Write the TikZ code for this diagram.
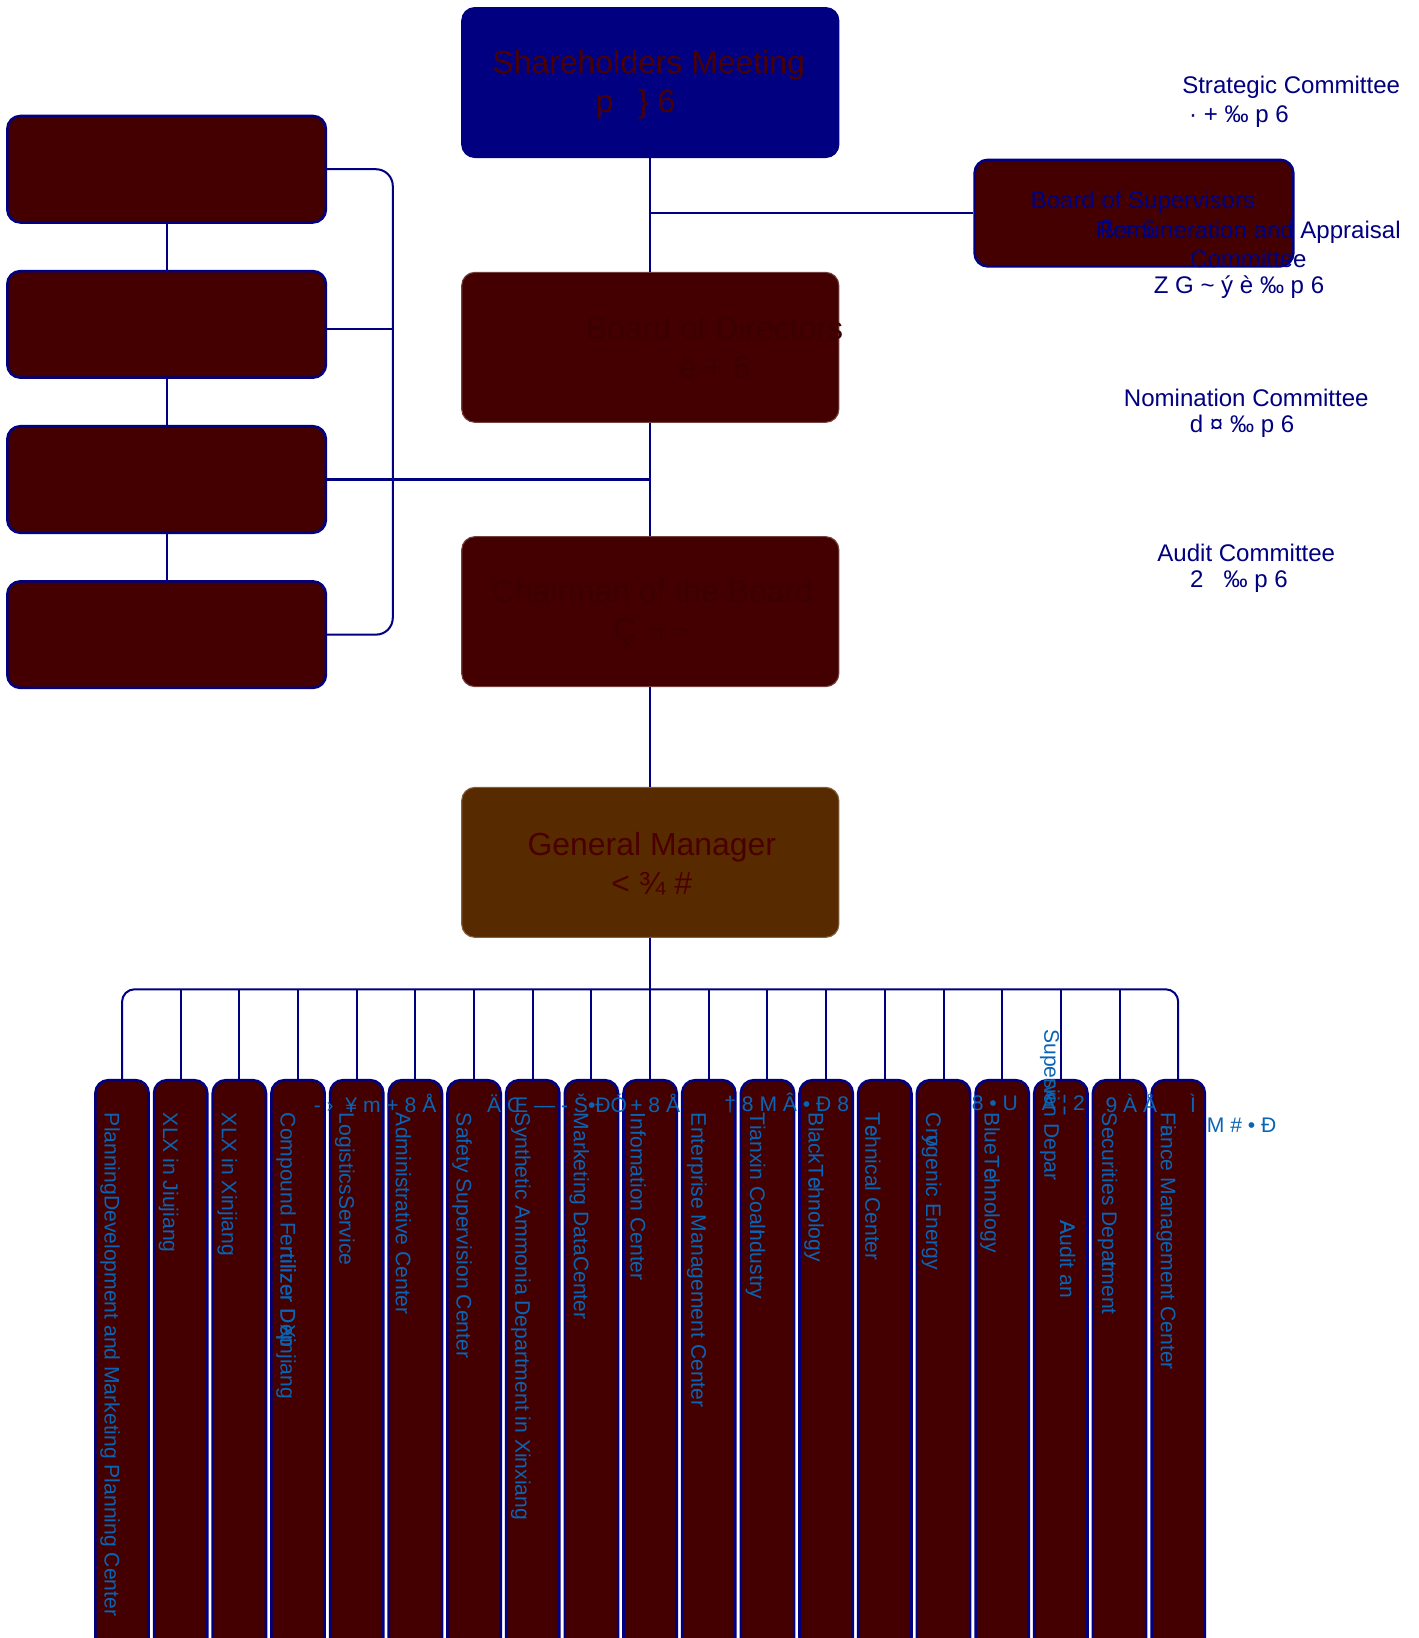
\documentclass[tikz,border=0pt]{standalone}
\usepackage{fontspec}
\setmainfont{Liberation Sans}
\usepackage{xcolor}
\usepackage{tikz}

\definecolor{navyline}{HTML}{000080}
\definecolor{boxred}{HTML}{440000}
\definecolor{gmbrown}{HTML}{582A00}
\definecolor{darktext}{HTML}{4A0000}
\definecolor{fainttext}{HTML}{3B0000}
\definecolor{deptblue}{HTML}{0A64B4}

\begin{document}
\begin{tikzpicture}[x=0.2mm, y=-0.2mm,
    wire/.style={draw=navyline, line width=1.1pt},
    orgbox/.style={draw=navyline, line width=1.4pt, fill=boxred, rounded corners=2.5mm, inner sep=0pt},
    topbox/.style={rounded corners=2.5mm, inner sep=0pt, line width=0.6pt,
        minimum width=72.2mm, minimum height=28.7mm},
    sidebox/.style={orgbox, minimum width=61mm, minimum height=20.4mm},
    deptbox/.style={orgbox, minimum width=10.2mm, minimum height=109.2mm},
    bigfont/.style={font=\fontsize{17.4}{21.1}\selectfont, align=center},
    cmtfont/.style={font=\fontsize{13.1}{15.7}\selectfont, align=center, text=navyline, inner sep=0pt},
    deptlabel/.style={font=\fontsize{11.5}{14}\selectfont, text=deptblue, inner sep=0pt, rotate=-90, anchor=west},
    rowtext/.style={font=\fontsize{11.5}{14}\selectfont, text=deptblue, inner sep=0pt, anchor=west}]
    \clip (0,0) rectangle (1357.5,1568);

    % Central chain
    \node[topbox, fill=navyline, draw=navyline] (share) at (622.5,79) {};
    \node[bigfont, text=darktext, inner sep=0pt] (share-txt) at (621,81)
        {Shareholders Meeting\\\makebox[3.33em][l]{p\hspace{0.78em}\}\ 6}};
    \node[topbox, fill=boxred, draw=boxred!75!white] (board) at (622.5,332.5) {};
    \node[bigfont, text=fainttext, inner sep=0pt] (board-txt) at (684,333) {Board of Directors\\ë + 6};
    \node[topbox, fill=boxred, draw=boxred!75!white] (chair) at (622.5,585.5) {};
    \node[bigfont, text=fainttext, inner sep=0pt] (chair-txt) at (624.5,587) {Chairman of the Board\\Ç ¬ \textasciitilde};
    \node[topbox, fill=gmbrown, draw=gmbrown!75!white] (gm) at (622.5,825.5) {};
    \node[bigfont, text=darktext, inner sep=0pt] (gm-txt) at (624,827) {General Manager\\< ¾ \#};

    % Supervisors
    \node[sidebox] (bos) at (1085.5,204) {};
    \node[cmtfont] (bos-txt) at (1094,205) {Board of Supervisors\\\makebox[3.57em][l]{ß = 6}};

    \draw[wire] (share.south) -- (board.north);
    \draw[wire] (share.south |- bos.west) -- (bos.west);
    \draw[wire] (board.south) -- (chair.north);
    \draw[wire] (chair.south) -- (gm.north);

    % Committees
    \node[cmtfont] (strat) at (1236,84) {Strategic Committee};
    \node[cmtfont] (strat-cn) at (1186,112) {· + ‰ p 6};
    \node[cmtfont] (remun) at (1195,234) {Remuneration and Appraisal\\Committee};
    \node[cmtfont] (remun-cn) at (1186,275) {Z G \textasciitilde{} ý è ‰ p 6};
    \node[cmtfont] (nomin) at (1193,381) {Nomination Committee};
    \node[cmtfont] (nomin-cn) at (1189,408) {d ¤ ‰ p 6};
    \node[cmtfont] (audit) at (1193,529) {Audit Committee};
    \node[cmtfont] (audit-cn) at (1186,557) {2\ \ \ ‰ p 6};

    % Left column
    \node[sidebox] (left1) at (159.5,162) {};
    \node[sidebox] (left2) at (159.5,310.5) {};
    \node[sidebox] (left3) at (159.5,459) {};
    \node[sidebox] (left4) at (159.5,607.5) {};
    \coordinate (spine) at (376,0);
    \coordinate (left2-out) at ([yshift=-0.9mm]left2.east);
    \foreach \a/\b in {1/2,2/3,3/4}
        \draw[wire] (left\a.south) -- (left\b.north);
    \draw[wire, rounded corners=3.2mm] (left1.east) -| (spine |- left4.east) -- (left4.east);
    \draw[wire] (left2-out) -- (spine |- left2-out);
    \draw[wire] (left3.east) -- (board.south |- left3.east);

    % Departments
    \coordinate (bus) at (622.5,947);
    \foreach \i in {1,...,19}
        \node[deptbox] (d\i) at ({116.8+56.17*(\i-1)},1307) {};
    \draw[wire] (gm.south) -- (bus);
    \draw[wire, rounded corners=2.4mm] (d1.north) |- (bus) -| (d19.north);
    \foreach \i in {2,...,18}
        \draw[wire] (d\i.north) -- (d\i.north |- bus);

    \foreach \i/\txt in {1/PlanningDevelopment and Marketing Planning Center,
        2/XLX in Jiujiang, 3/XLX in Xinjiang,
        4/Compound Fe\rlap{rtilizer Dep}rtilizer D\rlap{ep}Xinjiang,
        5/LogisticsService, 6/Administrative Center, 7/Safety Supervision Center,
        8/Synthetic Ammonia Department in Xinxiang, 9/Marketing DataCenter,
        10/Infomation Center, 11/Enterprise Management Center,
        12/Tianxin Coal\rlap{I}ndustry, 13/BlackT\rlap{e}chnology,
        14/T\rlap{e}chnical Center, 15/Cr\rlap{y}ogenic Energy,
        16/BlueT\rlap{e}chnology, 18/Securities Depa\rlap{r}tment,
        19/F\rlap{i}ance Management Center}
        \node[deptlabel] (t\i) at ({116.8+56.17*(\i-1)-11.5},1065) {\txt};
    \node[deptlabel] (t17a) at (1005,985) {Supe\rlap{rvi}sion Depar};
    \node[deptlabel] (t17b) at (1022,1168) {\rlap{A}Audit an};

    % Stray glyph row
    \foreach \x/\y/\txt [count=\k] in {300/1056/{- › \ ¥ m + 8 Å},
        466/1056/{Ä Œ — - Š•ÐÓ}, 603/1056/{+ 8 Å}, 693/1056/{† 8 M Â • Ð 8},
        930/1056/{8 • U}, 997/1056/{Å ¦ 2}, 1058/1056/{9 À Å},
        1139/1056/{Ì}, 1155/1077/{M \# • Ð}}
        \node[rowtext] (row\k) at (\x,\y) {\txt};
\end{tikzpicture}
\end{document}
